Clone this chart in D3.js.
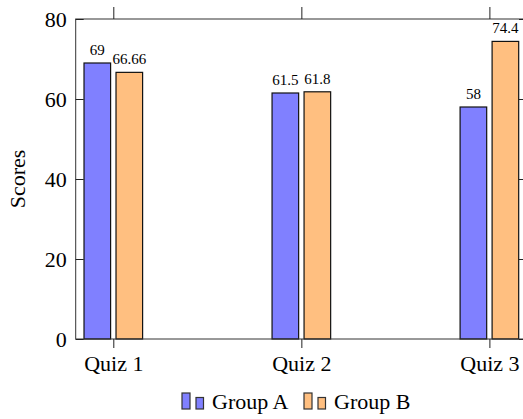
<!DOCTYPE html>
<html>
<head>
<meta charset="utf-8">
<script src="https://cdn.jsdelivr.net/npm/d3@7"></script>
<style>
html,body{margin:0;padding:0;background:#fff;}
svg{display:block;}
</style>
</head>
<body>
<svg id="chart" width="523" height="419"></svg>
<script>
const categories = ["Quiz 1", "Quiz 2", "Quiz 3"];
const groups = ["Group A", "Group B"];
const groupA = [69, 61.5, 58];
const groupB = [66.66, 61.8, 74.4];
const yTicks = [0, 20, 40, 60, 80];
const labelsA = ["69", "61.5", "58"];
const labelsB = ["66.66", "61.8", "74.4"];
const colors = ["#8080ff", "#ffbf80"];

(function () {
const FONT = "'Liberation Serif', 'DejaVu Serif', serif";
const FS = "22px";
const svg = d3.select("#chart");
const pLeft = 75.7, pRight = 527, pTop = 19, pBottom = 339;

const x = d3.scalePoint().domain(categories).range([pLeft, pRight]).padding(0.2);
const xb = d3.scaleBand().domain(groups).range([-29.3, 29.3]).paddingInner(0.169);
const y = d3.scaleLinear().domain([0, 80]).range([pBottom, pTop]);

const series = [groupA, groupB];
const labels = [labelsA, labelsB];

// bars
groups.forEach((g, gi) => {
  svg.append("g").selectAll("rect")
    .data(categories)
    .join("rect")
    .attr("x", (c) => x(c) + xb(g))
    .attr("y", (c, i) => y(series[gi][i]))
    .attr("width", xb.bandwidth())
    .attr("height", (c, i) => y(0) - y(series[gi][i]))
    .attr("fill", colors[gi])
    .attr("stroke", "#111")
    .attr("stroke-width", 1.2);
  svg.append("g").selectAll("text")
    .data(categories)
    .join("text")
    .attr("x", (c) => x(c) + xb(g) + xb.bandwidth() / 2)
    .attr("y", (c, i) => y(series[gi][i]) - 8)
    .attr("text-anchor", "middle")
    .style("font-family", FONT)
    .style("font-size", "15px")
    .text((c, i) => labels[gi][i]);
});

// frame
svg.append("rect")
  .attr("x", pLeft).attr("y", pTop)
  .attr("width", pRight - pLeft).attr("height", pBottom - pTop)
  .attr("fill", "none").attr("stroke", "#333").attr("stroke-width", 1);

// y axis left (ticks inside)
const yAxisL = d3.axisLeft(y).tickValues(yTicks).tickSize(-8).tickPadding(9).tickFormat(d3.format("d"));
const gyl = svg.append("g").attr("transform", `translate(${pLeft},0)`).call(yAxisL);
gyl.select(".domain").remove();
gyl.selectAll("line").attr("stroke", "#222");
gyl.selectAll("text").style("font-size", FS).style("font-family", FONT).attr("dy", "0.33em");

// y axis right (ticks inside)
const yAxisR = d3.axisRight(y).tickValues(yTicks).tickSize(-8).tickFormat("");
const gyr = svg.append("g").attr("transform", `translate(${pRight},0)`).call(yAxisR);
gyr.select(".domain").remove();
gyr.selectAll("line").attr("stroke", "#222");

// x axis bottom (ticks outside)
const xAxisB = d3.axisBottom(x).tickSize(9).tickPadding(7);
const gxb = svg.append("g").attr("transform", `translate(0,${pBottom})`).call(xAxisB);
gxb.select(".domain").remove();
gxb.selectAll("line").attr("stroke", "#222");
gxb.selectAll("text").style("font-size", FS).style("font-family", FONT);

// x axis top (ticks outside)
const xAxisT = d3.axisTop(x).tickSize(12).tickFormat("");
const gxt = svg.append("g").attr("transform", `translate(0,${pTop})`).call(xAxisT);
gxt.select(".domain").remove();
gxt.selectAll("line").attr("stroke", "#222");

// y label
svg.append("text")
  .attr("transform", `translate(25,${(pTop + pBottom) / 2}) rotate(-90)`)
  .attr("text-anchor", "middle")
  .style("font-family", FONT)
  .style("font-size", FS)
  .text("Scores");

// legend
const legendX = [182, 304];
groups.forEach((g, gi) => {
  const lg = svg.append("g").attr("transform", `translate(${legendX[gi]},0)`);
  lg.append("rect").attr("x", 0).attr("y", 393).attr("width", 8).attr("height", 16)
    .attr("fill", colors[gi]).attr("stroke", "#333").attr("stroke-width", 1.2);
  lg.append("rect").attr("x", 14).attr("y", 397.5).attr("width", 7.5).attr("height", 11.5)
    .attr("fill", colors[gi]).attr("stroke", "#333").attr("stroke-width", 1.2);
  lg.append("text").attr("x", 30).attr("y", 409)
    .style("font-family", FONT).style("font-size", FS).text(g);
});
})();
</script>
</body>
</html>
